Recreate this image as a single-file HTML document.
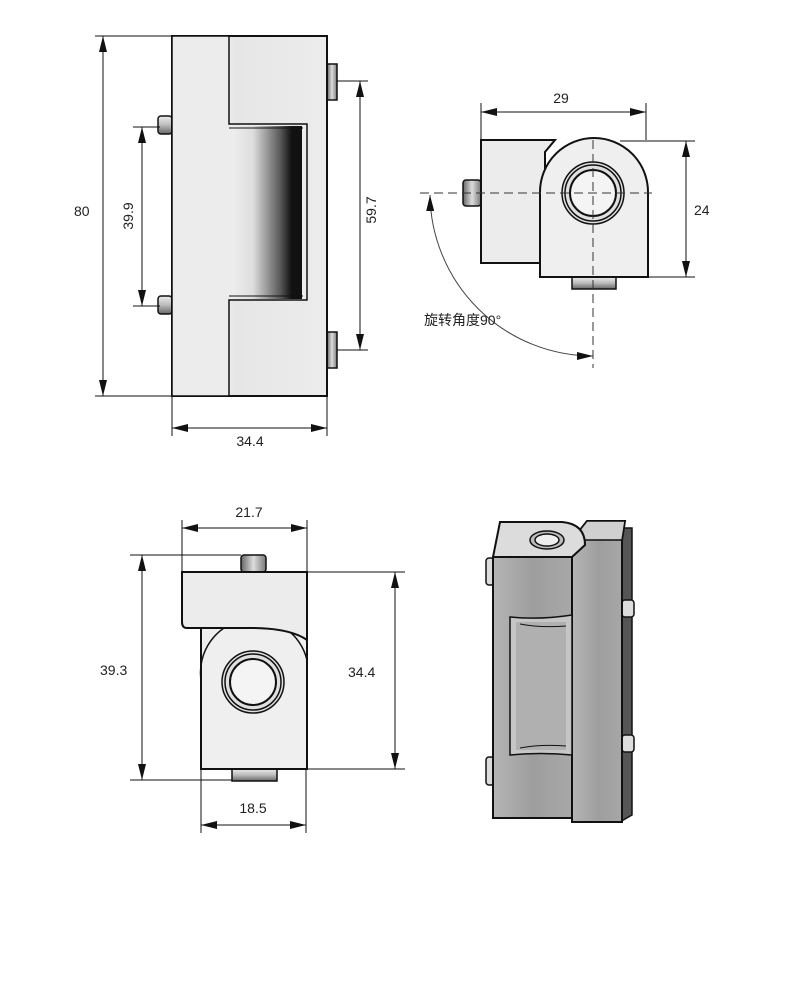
<!DOCTYPE html>
<html><head><meta charset="utf-8"><style>
body{margin:0;background:#fff}
svg{display:block}
text{font-family:"Liberation Sans","Noto Sans CJK SC",sans-serif;font-size:14px;fill:#222}
</style></head><body>
<svg width="788" height="1000" viewBox="0 0 788 1000" xmlns="http://www.w3.org/2000/svg">
<defs>
<marker id="a" markerWidth="16" markerHeight="8" refX="16" refY="4" orient="auto-start-reverse" markerUnits="userSpaceOnUse"><path d="M0,0 L16,4 L0,8z" fill="#111"/></marker>
<linearGradient id="cyl" x1="0" x2="1"><stop offset="0" stop-color="#eee"/><stop offset="0.3" stop-color="#ddd"/><stop offset="0.7" stop-color="#555"/><stop offset="0.85" stop-color="#111"/><stop offset="1" stop-color="#111"/></linearGradient>
<linearGradient id="pin" x1="0" x2="0" y1="0" y2="1"><stop offset="0" stop-color="#eee"/><stop offset="0.5" stop-color="#bbb"/><stop offset="1" stop-color="#666"/></linearGradient>
<linearGradient id="pinh" x1="0" x2="1"><stop offset="0" stop-color="#666"/><stop offset="0.5" stop-color="#ddd"/><stop offset="1" stop-color="#777"/></linearGradient>
<linearGradient id="rp" x1="0" x2="1"><stop offset="0" stop-color="#f2f2f2"/><stop offset="0.3" stop-color="#fafafa"/><stop offset="0.4" stop-color="#e6e6e6"/><stop offset="1" stop-color="#ececec"/></linearGradient>
<linearGradient id="iso" x1="0" x2="1"><stop offset="0" stop-color="#b5b5b5"/><stop offset="0.5" stop-color="#9e9e9e"/><stop offset="1" stop-color="#a8a8a8"/></linearGradient>
</defs>
<g stroke="#111" stroke-width="1" fill="none">
<rect x="158" y="116" width="14" height="18" rx="3" fill="url(#pin)" stroke-width="1.5"/>
<rect x="158" y="296" width="14" height="18" rx="3" fill="url(#pin)" stroke-width="1.5"/>
<rect x="327" y="64" width="10" height="36" fill="url(#pinh)" stroke-width="1.5"/>
<rect x="327" y="332" width="10" height="36" fill="url(#pinh)" stroke-width="1.5"/>
<rect x="172" y="36" width="155" height="360" fill="url(#rp)" stroke-width="2"/>
<path d="M172,36 H229 V124 H307 L307,300 H229 V396 H172 Z" fill="#ececec" stroke-width="1.5"/>
<rect x="232" y="126" width="70" height="173" fill="url(#cyl)" stroke="none"/>
<line x1="229" y1="128" x2="303" y2="128"/><line x1="229" y1="296" x2="303" y2="296"/>
<line x1="103" y1="36" x2="103" y2="396" marker-start="url(#a)" marker-end="url(#a)"/>
<line x1="95" y1="36" x2="172" y2="36"/><line x1="95" y1="396" x2="172" y2="396"/>
<line x1="142" y1="127" x2="142" y2="306" marker-start="url(#a)" marker-end="url(#a)"/>
<line x1="133" y1="127" x2="160" y2="127"/><line x1="133" y1="306" x2="160" y2="306"/>
<line x1="360" y1="81" x2="360" y2="350" marker-start="url(#a)" marker-end="url(#a)"/>
<line x1="337" y1="81" x2="368" y2="81"/><line x1="337" y1="350" x2="368" y2="350"/>
<line x1="172" y1="396" x2="172" y2="436"/><line x1="327" y1="396" x2="327" y2="436"/>
<line x1="172" y1="428" x2="327" y2="428" marker-start="url(#a)" marker-end="url(#a)"/>
<rect x="463" y="180" width="18" height="26" rx="3" fill="url(#pinh)" stroke-width="1.5"/>
<rect x="572" y="277" width="44" height="12" fill="url(#pin)" stroke-width="1.5"/>
<path d="M481,140 H555 L545,152 V263 H481 Z" fill="#ececec" stroke-width="2"/>
<path d="M540,277 V192 A53,53 0 0 1 648,192 V277 Z" fill="#efefef" stroke-width="2"/>
<circle cx="593" cy="193" r="31" fill="#e0e0e0" stroke-width="1.5"/>
<circle cx="593" cy="193" r="28" stroke-width="1.5"/>
<circle cx="593" cy="193" r="23" fill="#f4f4f4" stroke-width="2"/>
<g stroke-dasharray="9,5" stroke="#333"><line x1="420" y1="193" x2="652" y2="193"/><line x1="593" y1="140" x2="593" y2="368"/></g>
<line x1="481" y1="103" x2="481" y2="140"/><line x1="646" y1="103" x2="646" y2="140"/>
<line x1="481" y1="112" x2="646" y2="112" marker-start="url(#a)" marker-end="url(#a)"/>
<line x1="620" y1="141" x2="695" y2="141"/><line x1="648" y1="277" x2="695" y2="277"/>
<line x1="686" y1="141" x2="686" y2="277" marker-start="url(#a)" marker-end="url(#a)"/>
<path d="M430,195 A163,163 0 0 0 593,356" marker-start="url(#a)" marker-end="url(#a)" stroke="#444"/>
<rect x="241" y="555" width="25" height="17" rx="3" fill="url(#pinh)" stroke-width="1.5"/>
<rect x="232" y="769" width="45" height="12" fill="url(#pin)" stroke-width="1.5"/>
<path d="M201,628 H307 V769 H201 Z" fill="#efefef" stroke-width="2"/>
<path d="M201,680 A54,54 0 0 1 307,660" stroke-width="1.5"/>
<path d="M182,572 H307 V640 Q290,628 250,628 H187 Q182,628 182,622 Z" fill="#ececec" stroke-width="2"/>
<circle cx="253" cy="682" r="31" fill="#e0e0e0" stroke-width="1.5"/>
<circle cx="253" cy="682" r="28" stroke-width="1.5"/>
<circle cx="253" cy="682" r="23" fill="#f4f4f4" stroke-width="2"/>
<line x1="182" y1="520" x2="182" y2="572"/><line x1="307" y1="520" x2="307" y2="572"/>
<line x1="182" y1="528" x2="307" y2="528" marker-start="url(#a)" marker-end="url(#a)"/>
<line x1="130" y1="555" x2="241" y2="555"/><line x1="130" y1="780" x2="232" y2="780"/>
<line x1="142" y1="555" x2="142" y2="780" marker-start="url(#a)" marker-end="url(#a)"/>
<line x1="307" y1="572" x2="405" y2="572"/><line x1="307" y1="769" x2="405" y2="769"/>
<line x1="395" y1="572" x2="395" y2="769" marker-start="url(#a)" marker-end="url(#a)"/>
<line x1="201" y1="769" x2="201" y2="833"/><line x1="306" y1="769" x2="306" y2="833"/>
<line x1="201" y1="825" x2="306" y2="825" marker-start="url(#a)" marker-end="url(#a)"/>
<rect x="486" y="558" width="8" height="27" rx="3" fill="#ddd" stroke-width="1.5"/>
<rect x="486" y="757" width="8" height="28" rx="3" fill="#ddd" stroke-width="1.5"/>
<path d="M620,528 L632,528 L632,815 L620,822 Z" fill="#555" stroke-width="1.5"/>
<rect x="622" y="600" width="12" height="17" rx="3" fill="#ddd" stroke-width="1.5"/>
<rect x="622" y="735" width="12" height="17" rx="3" fill="#ddd" stroke-width="1.5"/>
<path d="M572,540 L587,521 L625,521 L622,540 L622,822 L572,822 Z" fill="url(#iso)" stroke-width="2"/>
<path d="M572,540 L587,521 L625,521 L622,540 Z" fill="#d0d0d0" stroke-width="1.5"/>
<path d="M493,557 L500,522 L562,522 Q585,524 585,545 L572,557 Z" fill="#dcdcdc" stroke-width="2"/>
<ellipse cx="547" cy="540" rx="17" ry="9" fill="#bbb" stroke-width="1.5"/>
<ellipse cx="547" cy="540" rx="12" ry="6" fill="#eee" stroke-width="1.5"/>
<path d="M493,557 H572 V818 H493 Z" fill="url(#iso)" stroke-width="2"/>
<path d="M510,617 Q540,620 572,615 V755 Q540,752 510,755 Z" fill="#c6c6c6" stroke-width="1.5"/>
<path d="M516,622 H566 V750 H516 Z" fill="#b0b0b0" stroke="none"/>
<path d="M520,624 Q540,628 566,626" stroke-width="1"/><path d="M520,748 Q540,744 566,746"/>
</g>
<text x="74" y="216">80</text>
<text transform="translate(133,216) rotate(-90)" text-anchor="middle">39.9</text>
<text transform="translate(376,210) rotate(-90)" text-anchor="middle">59.7</text>
<text x="250" y="446" text-anchor="middle">34.4</text>
<text x="561" y="103" text-anchor="middle">29</text>
<text x="694" y="215">24</text>
<text x="424" y="325">旋转角度90°</text>
<text x="249" y="517" text-anchor="middle">21.7</text>
<text x="100" y="675">39.3</text>
<text x="348" y="677">34.4</text>
<text x="253" y="813" text-anchor="middle">18.5</text>
</svg>
</body></html>
